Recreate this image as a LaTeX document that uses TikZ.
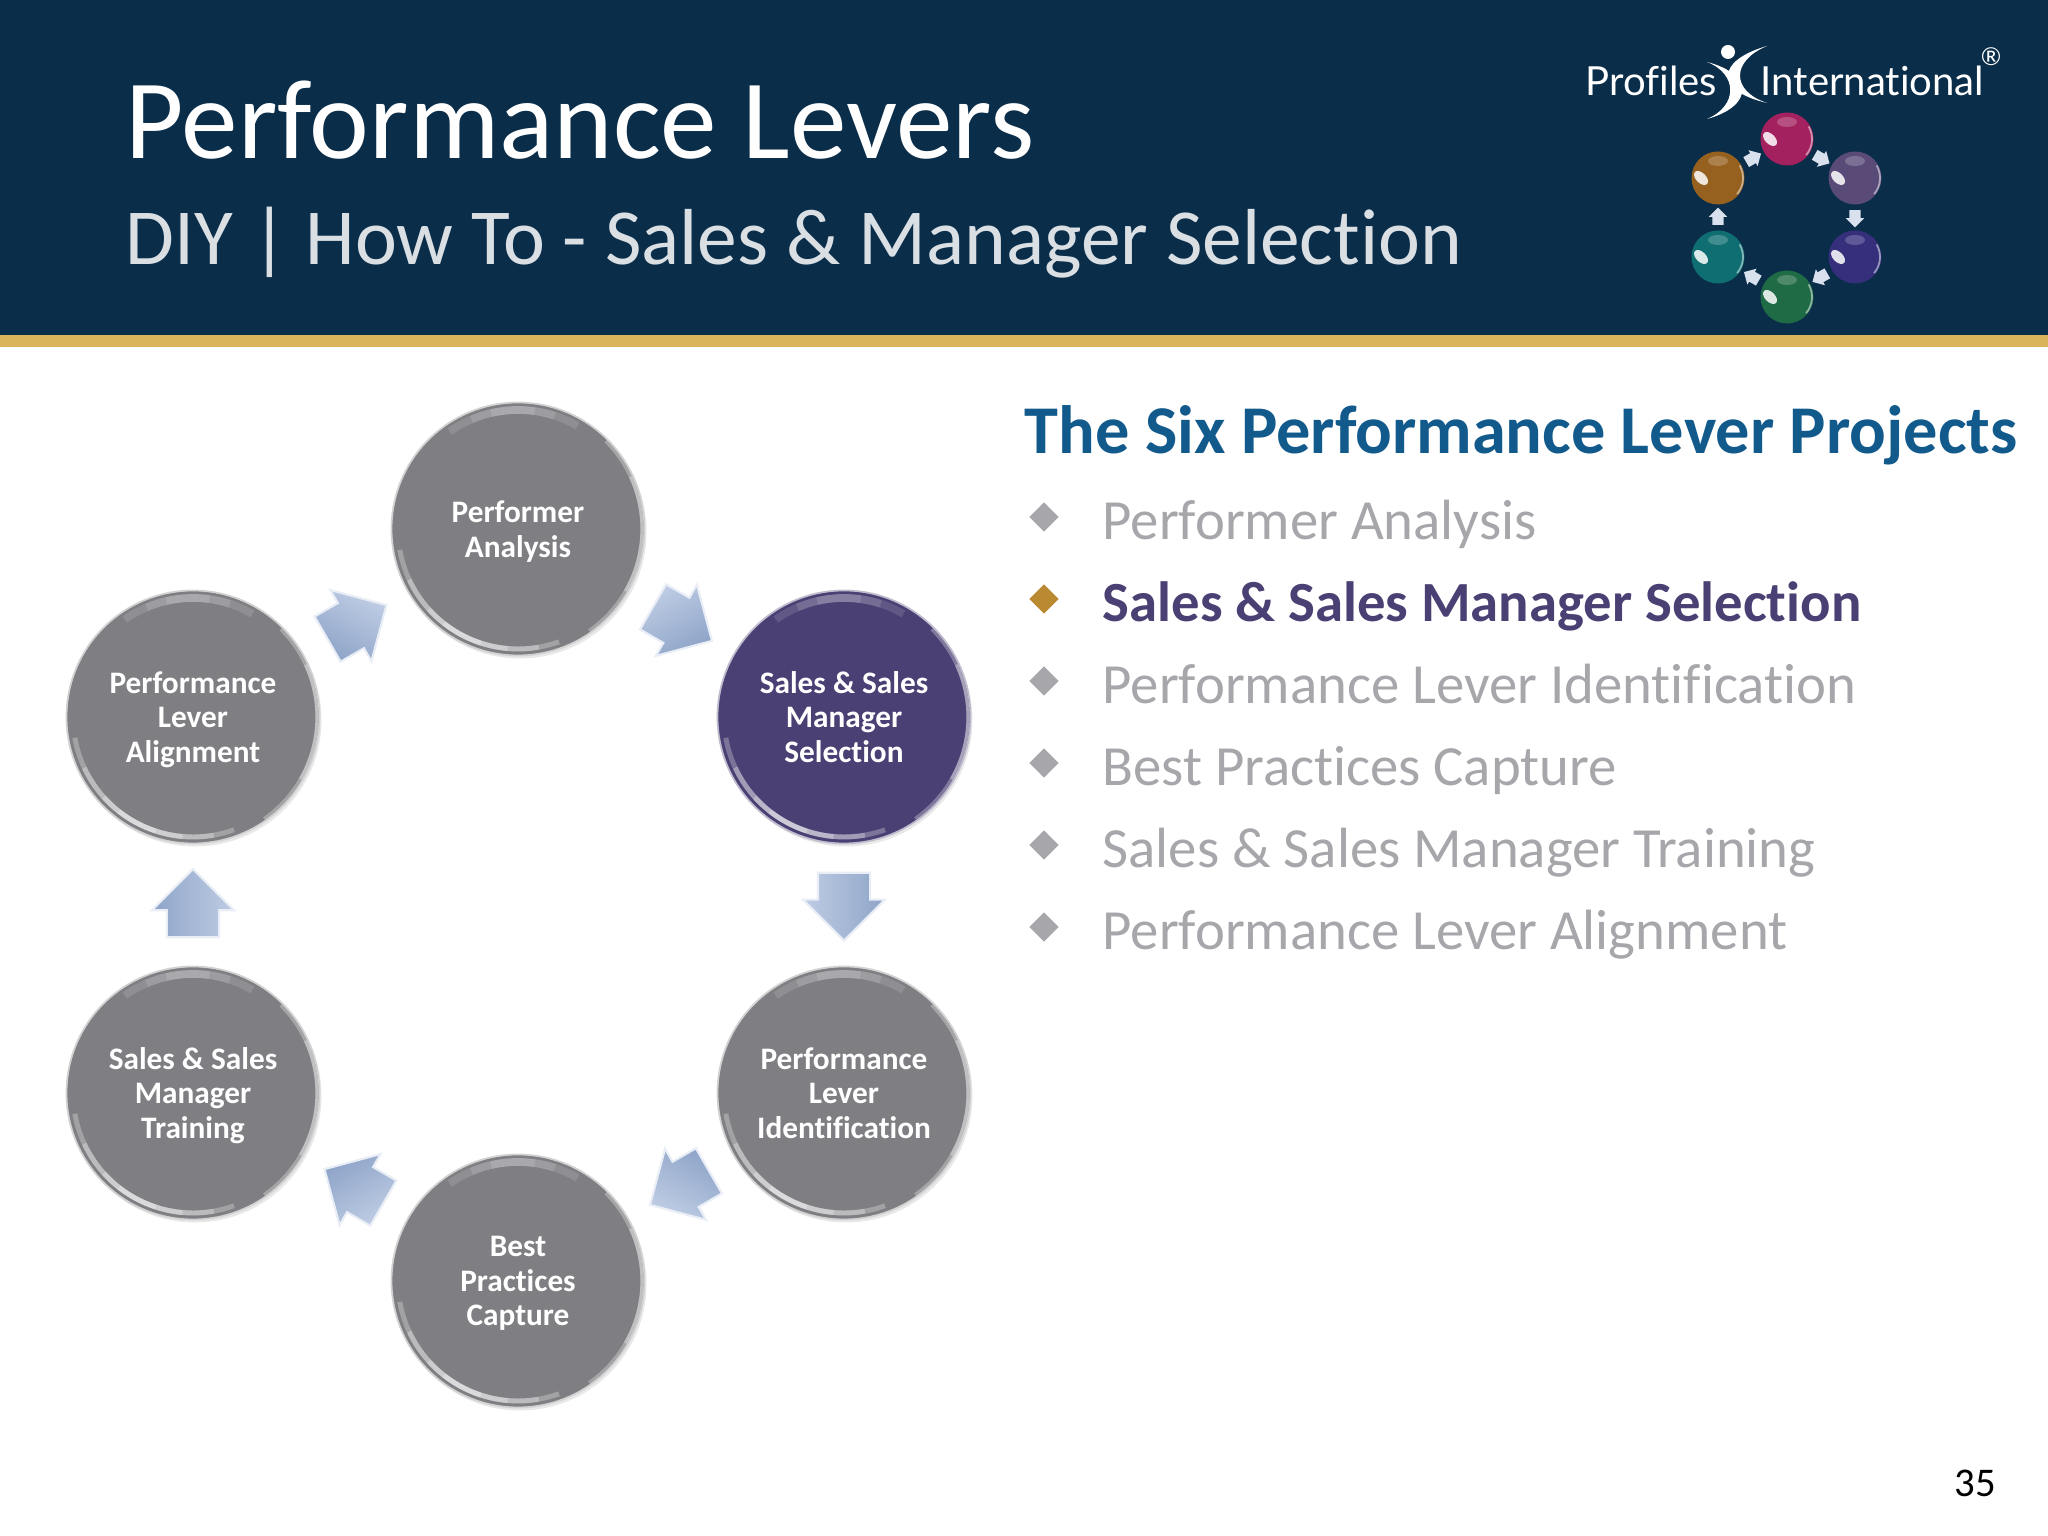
\documentclass[tikz,border=0pt]{standalone}
\usepackage{fontspec}
\usetikzlibrary{calc,shapes.geometric,shapes.arrows,shadows}
\setmainfont{Carlito}[Ligatures={NoCommon}]
\newfontfamily\logofont{Lato}[Ligatures={NoCommon}]
\definecolor{headnavy}{HTML}{0A2D49}
\definecolor{headgold}{HTML}{D9B45B}
\definecolor{levergray}{HTML}{7F7E82}
\definecolor{leverpurple}{HTML}{4B4073}
\definecolor{arrowlight}{HTML}{BFCDE4}
\definecolor{arrowdark}{HTML}{8EA4C8}
\definecolor{projblue}{HTML}{125A8C}
\definecolor{itemgray}{HTML}{A6A6AB}
\definecolor{itemgold}{HTML}{B98A32}
\definecolor{ballmagenta}{HTML}{A3215F}
\definecolor{ballviolet}{HTML}{5A4A78}
\definecolor{ballindigo}{HTML}{352F7C}
\definecolor{ballgreen}{HTML}{1F6B45}
\definecolor{ballteal}{HTML}{0F6E72}
\definecolor{ballorange}{HTML}{96601F}
\tikzset{
  lever/.style={circle, minimum size=2.53cm, inner sep=0pt, align=center, text=white,
    font=\fontsize{8.9pt}{9.85pt}\selectfont\bfseries, draw=#1!35!white, line width=0.5pt,
    fill=#1, drop shadow={opacity=0.18, shadow xshift=0.02cm, shadow yshift=-0.03cm}},
  levarrow/.style={single arrow, minimum height=0.68cm, inner xsep=0pt, inner ysep=0.25cm,
    single arrow head extend=0.15cm, draw=arrowlight!35!white, line width=0.6pt,
    top color=arrowlight, bottom color=arrowdark},
  tinyarrow/.style={single arrow, minimum height=0.15cm, inner sep=0.05cm,
    single arrow head extend=0.035cm, fill=arrowlight!60!white},
  logoball/.style={circle, minimum size=0.53cm, inner sep=0pt, fill=#1},
  bulletmark/.style={diamond, minimum size=0.30cm, inner sep=0pt, fill=#1},
  itemtext/.style={anchor=base west, font=\fontsize{16.15pt}{19pt}\selectfont, text=itemgray},
}
\begin{document}
\begin{tikzpicture}
  \useasboundingbox (0,0) rectangle (20.48,15.36);

  % Header band
  \fill[headnavy] (0,11.99) rectangle (20.48,15.36);
  \fill[headgold] (0,11.89) rectangle (20.48,12.01);
  \node[anchor=base west, inner sep=0pt, text=white, font=\fontsize{32.2pt}{36pt}\selectfont] (title) at (1.25,13.77) {Performance Levers};
  \node[anchor=base west, inner sep=0pt, text=white!85!headnavy, font=\fontsize{22.6pt}{28pt}\selectfont] (subtitle) at (1.25,12.71) {DIY | How To - Sales \& Manager Selection};

  % Logo
  \node[anchor=base west, inner sep=0pt, text=white, font=\logofont\fontsize{11.4pt}{13pt}\selectfont] (lprofiles) at (15.85,14.40) {Profiles};
  \node[anchor=base west, inner sep=0pt, text=white, font=\logofont\fontsize{11.4pt}{13pt}\selectfont] (lintl) at (17.60,14.40) {International};
  \node[inner sep=0pt, text=white, font=\logofont\fontsize{7pt}{7pt}\selectfont] (lreg) at (19.91,14.79) {®};
  \fill[white] (17.28,14.84) circle (0.07);
  \fill[white] (17.07,14.74) .. controls (17.54,14.62) and (17.54,14.30) .. (17.07,14.17)
    .. controls (17.38,14.30) and (17.38,14.62) .. (17.07,14.74);
  \fill[white] (17.67,14.90) .. controls (17.15,14.75) and (17.15,14.45) .. (17.67,14.33)
    .. controls (17.31,14.45) and (17.31,14.75) .. (17.67,14.90);
  \foreach \nm/\px/\py/\col in {bm/17.87/13.97/ballmagenta, bv/18.55/13.58/ballviolet,
      bi/18.55/12.79/ballindigo, bg/17.87/12.39/ballgreen,
      bt/17.18/12.79/ballteal, bo/17.18/13.58/ballorange} {
    \node[logoball=\col] (\nm) at (\px,\py) {};
    \fill[\col!70!white, opacity=0.7] ($(\nm)+(0,0.17)$) ellipse (0.1 and 0.05);
    \fill[white, opacity=0.85, rotate around={-45:($(\nm)+(-0.12,-0.12)$)}] ($(\nm)+(-0.12,-0.12)$) ellipse (0.085 and 0.05);
    \draw[white, opacity=0.5, line width=0.5pt] ([shift={(-40:0.25)}]\nm.center) arc (-40:30:0.25);
  }
  \foreach \a/\b/\ang in {bo/bm/30, bm/bv/-30, bv/bi/-90, bi/bg/-150, bg/bt/150, bt/bo/90} {
    \node[tinyarrow, rotate=\ang] (t\a) at ($(\a)!0.48!(\b)$) {};
  }

  % Lever circles
  \node[lever=levergray] (perf) at (5.18,10.07) {Performer\\\smash{Analysis}};
  \node[lever=leverpurple] (sel) at (8.44,8.19) {Sales \& Sales\\Manager\\Selection};
  \node[lever=levergray] (iden) at (8.44,4.43) {Performance\\Lever\\Identification};
  \node[lever=levergray] (best) at (5.18,2.55) {Best\\Practices\\\smash{Capture}};
  \node[lever=levergray] (train) at (1.93,4.43) {Sales \& Sales\\Manager\\\smash{Training}};
  \node[lever=levergray] (align) at (1.93,8.19) {Performance\\Lever\\\smash{Alignment}};
  \foreach \n in {perf,sel,iden,best,train,align} {
    % soft rim, stacked so that it tapers
    \foreach \s/\e in {60/125, 72/113, 82/103} {
      \draw[white, opacity=0.13, line width=2.2pt] ([shift={(\s:1.19)}]\n.center) arc (\s:\e:1.19);
    }
    \foreach \s/\e in {190/290, 205/280, 222/265, 232/252} {
      \draw[white, opacity=0.28, line width=1.4pt] ([shift={(\s:1.20)}]\n.center) arc (\s:\e:1.20);
    }
    \foreach \s/\e in {-55/45, -30/25} {
      \draw[white, opacity=0.3, line width=0.9pt] ([shift={(\s:1.24)}]\n.center) arc (\s:\e:1.24);
    }
  }

  % Arrows between the circles
  \foreach \a/\b/\ang in {perf/sel/-30, sel/iden/-90, iden/best/-150, best/train/150, train/align/90, align/perf/30} {
    \pgfmathsetmacro{\shang}{-\ang}
    \node[levarrow, rotate=\ang, shading angle=\shang] (a\a) at ($(\a)!0.47!(\b)$) {};
  }

  % Project list
  \node[anchor=base west, inner sep=0pt, text=projblue, font=\fontsize{19.45pt}{22pt}\selectfont\bfseries] (projects) at (10.24,10.82) {The Six Performance Lever Projects};
  \foreach \i/\y/\txt in {1/9.96/Performer Analysis, 3/8.32/Performance Lever Identification,
      4/7.50/Best Practices Capture, 5/6.68/Sales \& Sales Manager Training, 6/5.86/Performance Lever Alignment} {
    \node[bulletmark=itemgray] (mark\i) at (10.44,\y+0.23) {};
    \node[itemtext, inner sep=0pt] (item\i) at (11.02,\y) {\txt};
  }
  \node[bulletmark=itemgold] (mark2) at (10.44,9.37) {};
  \node[itemtext, inner sep=0pt, text=leverpurple, font=\fontsize{16.15pt}{19pt}\selectfont\bfseries] (item2) at (11.02,9.14) {Sales \& Sales Manager Selection};

  % Page number
  \node[anchor=base east, inner sep=0pt, font=\fontsize{11.6pt}{14pt}\selectfont] (page) at (19.97,0.39) {35};
\end{tikzpicture}
\end{document}
